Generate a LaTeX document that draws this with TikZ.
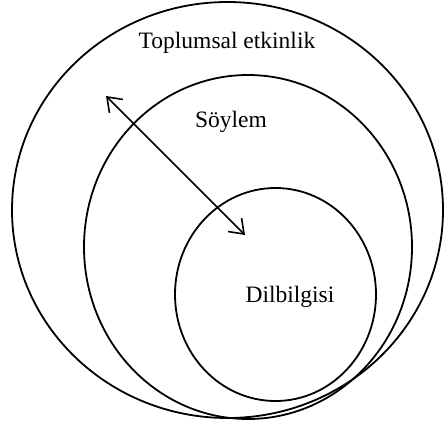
\documentclass[tikz,border=0pt]{standalone}
\usepackage{fontspec}
\setmainfont{Liberation Serif}
\usetikzlibrary{arrows.meta,shapes.geometric}
\begin{document}
\begin{tikzpicture}[x=1pt,y=-1pt,
  ring/.style={draw,ellipse,line width=1.8pt,inner sep=0pt},
  lbl/.style={font=\fontsize{23.5}{26}\selectfont,inner sep=0pt},
  dbl/.style={line width=1.6pt,{Straight Barb[length=13pt,width=19pt,line width=1.6pt]}-{Straight Barb[length=13pt,width=19pt,line width=1.6pt]}}]
\useasboundingbox (0,0) rectangle (444,428);
\node[ring,minimum width=431pt,minimum height=416pt] (outer) at (227.5,210) {};
\node[ring,minimum width=328pt,minimum height=344pt] (middle) at (248,247) {};
\node[ring,minimum width=201pt,minimum height=213pt] (inner) at (275.5,294.5) {};
\node[lbl] (t1) at (227,43) {Toplumsal etkinlik};
\node[lbl] (t2) at (231,122) {Söylem};
\node[lbl] (t3) at (290,297) {Dilbilgisi};
\coordinate (a1) at (106,96);
\coordinate (a2) at (245,235);
\draw[dbl] (a1) -- (a2);
\end{tikzpicture}
\end{document}
